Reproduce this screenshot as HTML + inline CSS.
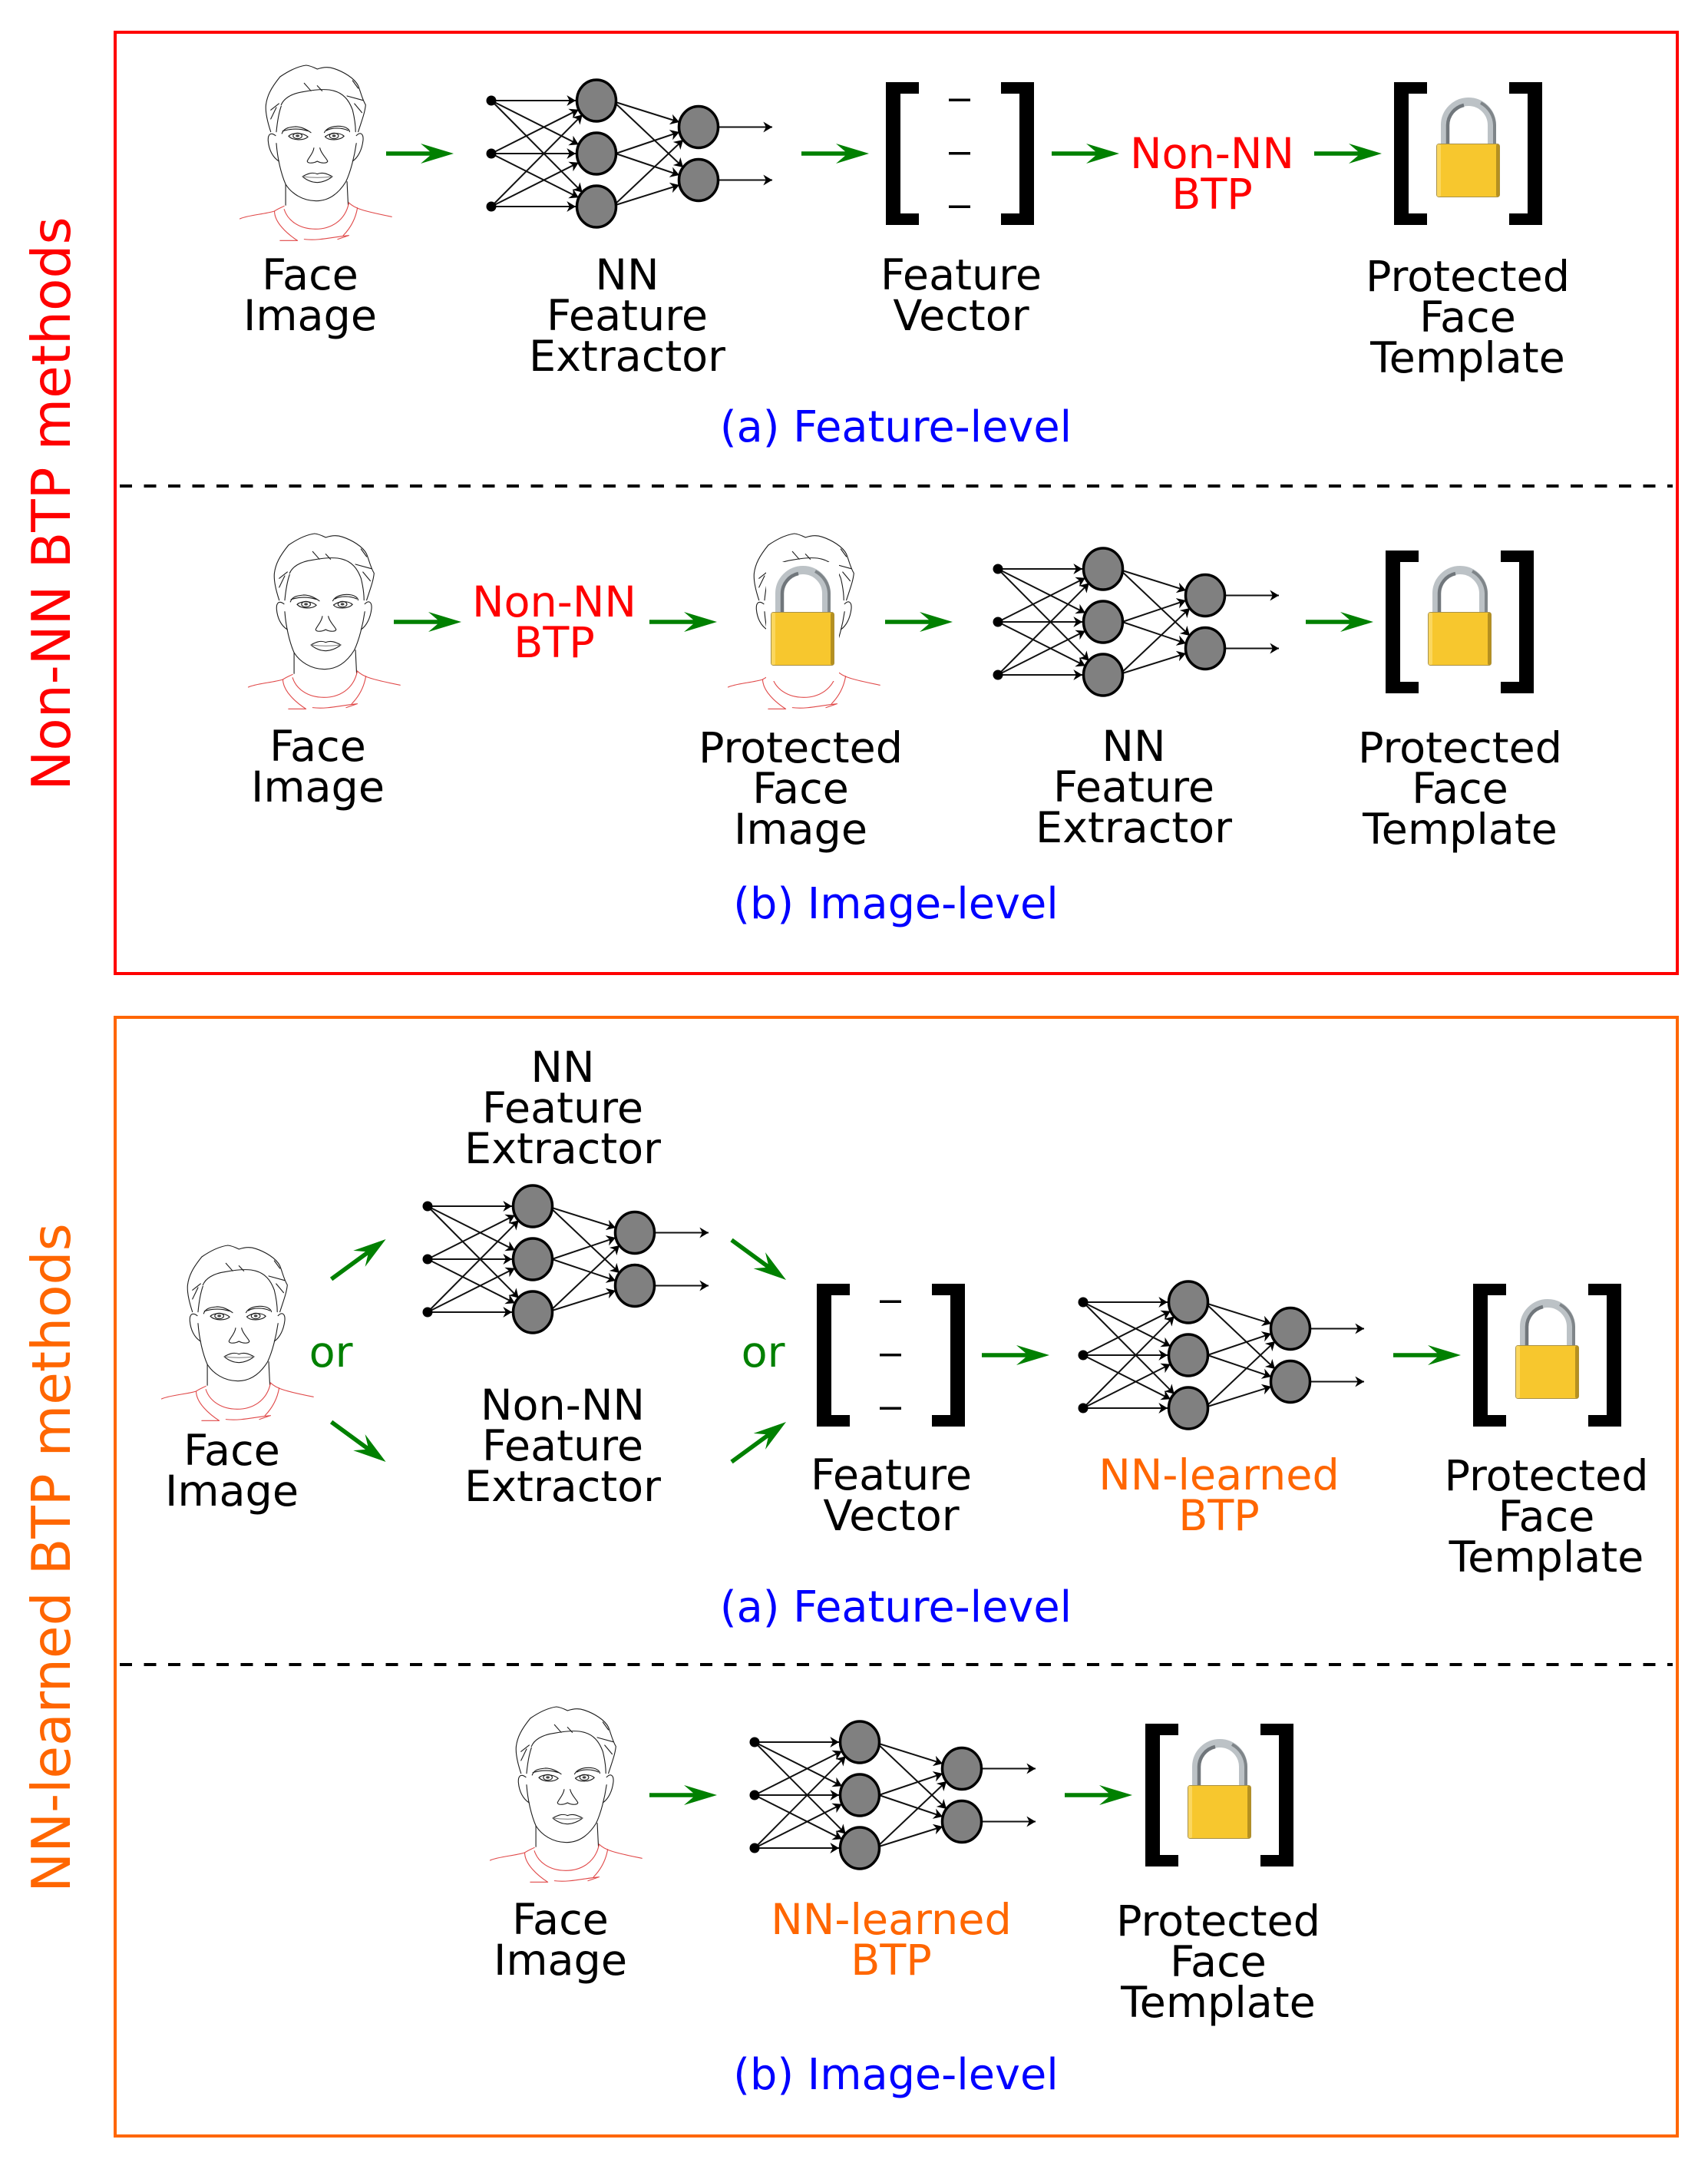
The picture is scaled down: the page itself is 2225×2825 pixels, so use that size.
<!DOCTYPE html>
<html>
<head>
<meta charset="utf-8">
<style>
html,body{margin:0;padding:0;background:#fff;}
svg{display:block;}
text{font-family:"DejaVu Sans",sans-serif;font-size:55.6px;text-anchor:middle;fill:#000;}
.r{fill:#ff0000;}
.o{fill:#ff6600;}
.b{fill:#0000ff;font-size:55.7px;}
.g{fill:#008000;}
.s{font-size:69.4px;}
</style>
</head>
<body>
<svg xmlns="http://www.w3.org/2000/svg" width="2225" height="2825" viewBox="0 0 2225 2825">
<defs>
<marker id="m" markerUnits="userSpaceOnUse" markerWidth="14" markerHeight="14" refX="10" refY="6" orient="auto" viewBox="0 0 12 12">
<path d="M0,0 L10,6 L0,12 L3,6 Z" fill="#000"/>
</marker>
<g id="face" transform="scale(.4847,.3333)" fill="none" stroke="#1c1c1c" stroke-width="1.1" stroke-linecap="round" stroke-linejoin="round">
<path vector-effect="non-scaling-stroke" d="M150,395 C142,360 135,320 137,290 C140,255 150,225 175,180 C195,160 220,140 245,135 C258,137 268,145 275,150 C290,142 305,140 320,148 C345,160 375,185 385,215 C392,240 395,265 405,290 C403,320 395,350 385,395"/>
<path vector-effect="non-scaling-stroke" d="M165,395 C168,350 172,320 178,295 M178,290 C185,265 205,245 240,238 C270,230 300,226 320,235 C345,245 360,270 370,310 C375,340 378,365 378,395"/>
<path vector-effect="non-scaling-stroke" d="M240,205 L258,235 M275,215 L288,235 M355,255 L398,272 M150,310 L172,285 M375,285 L395,320 M150,345 L165,300 M385,225 L370,195"/>
<path vector-effect="non-scaling-stroke" d="M165,440 C168,500 178,560 190,600 C205,635 235,665 272,665 C310,665 335,630 352,590 C365,550 375,490 380,440"/>
<path vector-effect="non-scaling-stroke" d="M190,600 L190,682 M355,590 L358,680"/>
<path vector-effect="non-scaling-stroke" d="M163,410 C150,395 142,405 143,430 C145,465 155,495 172,510 M380,410 C392,392 400,405 398,430 C395,465 385,495 370,510"/>
<path vector-effect="non-scaling-stroke" d="M180,402 C185,382 195,378 215,375 C232,375 245,385 258,398 M182,392 C200,384 225,380 250,392 M294,398 C300,380 320,368 345,375 C355,378 362,388 362,395 M300,390 C315,378 340,378 358,390"/>
<path vector-effect="non-scaling-stroke" d="M198,412 C208,398 235,396 250,415 C238,430 210,430 198,412 Z M296,414 C310,398 335,396 347,412 C335,430 305,430 296,414 Z"/>
<ellipse vector-effect="non-scaling-stroke" cx="222" cy="411" rx="12" ry="11"/>
<ellipse vector-effect="non-scaling-stroke" cx="320" cy="411" rx="12" ry="11"/>
<ellipse cx="222" cy="411" rx="5" ry="5" fill="#444" stroke="none"/>
<ellipse cx="320" cy="411" rx="5" ry="5" fill="#444" stroke="none"/>
<path vector-effect="non-scaling-stroke" d="M266,458 C264,480 252,495 248,510 C250,520 265,518 275,510 C285,518 300,520 303,510 C298,495 285,480 282,458"/>
<path vector-effect="non-scaling-stroke" d="M235,570 C245,562 260,550 275,560 C290,550 305,562 316,570 C305,582 290,593 275,593 C258,593 245,582 235,570 Z"/>
<path vector-effect="non-scaling-stroke" stroke="#888" d="M235,570 C260,575 290,575 316,570"/>
<g stroke="#e04848">
<path vector-effect="non-scaling-stroke" d="M67,735 C90,720 130,718 160,705 C170,695 180,690 186,685"/>
<path vector-effect="non-scaling-stroke" d="M186,698 C195,740 225,775 270,775 C310,775 350,745 360,672"/>
<path vector-effect="non-scaling-stroke" d="M360,672 C375,695 400,705 475,727"/>
<path vector-effect="non-scaling-stroke" d="M160,705 C160,750 195,795 222,820 M175,820 L222,820"/>
<path vector-effect="non-scaling-stroke" d="M383,692 C378,735 365,770 345,800"/>
<path vector-effect="non-scaling-stroke" d="M240,815 C280,822 320,805 360,800 M330,815 L360,800"/>
</g>
</g>
<g id="lock">
<path d="M11.5,2 V-24 A30.5,30.5 0 0 1 72.5,-24 V2" fill="none" stroke="#bcc2c6" stroke-width="11"/>
<path d="M15,2 V-24 A27,27 0 0 1 36,-50" fill="none" stroke="#70767b" stroke-width="4.5"/>
<path d="M76,2 V-24 A34,34 0 0 0 58,-53" fill="none" stroke="#7f8589" stroke-width="4"/>
<rect x="0.5" y="0.5" width="82" height="69" rx="3" fill="#f7c72e" stroke="#a8914a" stroke-width="1"/>
<rect x="1" y="1" width="5" height="68" rx="2" fill="#fbd75e"/>
<rect x="78" y="1" width="4.5" height="68" rx="2" fill="#b59020"/>
</g>
<path id="arrow" d="M0,-2.8 H57 L45,-13 L88,0 L45,13 L57,2.8 H0 Z" fill="#008000"/>
<g id="bracket" fill="#000">
<path d="M0,0 H43 V15 H19 V171 H43 V186 H0 Z"/>
<path d="M193,0 H150 V15 H174 V171 H150 V186 H193 Z"/>
</g>
<g id="dashes" fill="#000">
<rect x="82" y="21.5" width="28" height="3.5"/>
<rect x="82" y="91" width="28" height="3.5"/>
<rect x="82" y="160.5" width="28" height="3.5"/>
</g>
<g id="nn">
<g fill="none" stroke="#111" stroke-width="2">
<path marker-end="url(#m)" d="M0,-69 L110,-69"/>
<path marker-end="url(#m)" d="M0,-69 L113.8,-11.7"/>
<path marker-end="url(#m)" d="M0,-69 L118.7,50.6"/>
<path marker-end="url(#m)" d="M0,0 L113.8,-57.3"/>
<path marker-end="url(#m)" d="M0,0 L110,0"/>
<path marker-end="url(#m)" d="M0,0 L113.8,57.3"/>
<path marker-end="url(#m)" d="M0,69 L118.7,-50.6"/>
<path marker-end="url(#m)" d="M0,69 L113.8,11.7"/>
<path marker-end="url(#m)" d="M0,69 L110,69"/>
<path marker-end="url(#m)" d="M162,-67 L245,-41"/>
<path marker-end="url(#m)" d="M158,-69 L250,18"/>
<path marker-end="url(#m)" d="M162,0 L245,-28"/>
<path marker-end="url(#m)" d="M162,0 L245,28"/>
<path marker-end="url(#m)" d="M158,69 L250,-18"/>
<path marker-end="url(#m)" d="M162,67 L245,41"/>
<path marker-end="url(#m)" d="M295,-34.5 L366,-34.5"/>
<path marker-end="url(#m)" d="M295,34.5 L366,34.5"/>
</g>
<g fill="#000">
<circle cx="0" cy="-69" r="6.5"/>
<circle cx="0" cy="0" r="6.5"/>
<circle cx="0" cy="69" r="6.5"/>
</g>
<g fill="#808080" stroke="#000" stroke-width="3.5">
<ellipse cx="137" cy="-69" rx="25.5" ry="27"/>
<ellipse cx="137" cy="0" rx="25.5" ry="27"/>
<ellipse cx="137" cy="69" rx="25.5" ry="27"/>
<ellipse cx="270" cy="-34.5" rx="25.5" ry="27"/>
<ellipse cx="270" cy="34.5" rx="25.5" ry="27"/>
</g>
</g>
</defs>

<rect width="2225" height="2825" fill="#fff"/>

<!-- frames -->
<rect x="150" y="42" width="2035" height="1226" fill="none" stroke="#ff0000" stroke-width="4"/>
<rect x="150" y="1325" width="2035" height="1457" fill="none" stroke="#ff6600" stroke-width="4"/>
<path d="M156,633 H2179" stroke="#000" stroke-width="4" stroke-dasharray="16 15.5"/>
<path d="M156,2168 H2179" stroke="#000" stroke-width="4" stroke-dasharray="16 15.5"/>

<!-- side labels -->
<text class="s r" transform="translate(91,656) rotate(-90)">Non-NN BTP methods</text>
<text class="s o" transform="translate(91,2029) rotate(-90)">NN-learned BTP methods</text>

<!-- Row A -->
<use href="#face" x="280" y="40"/>
<use href="#arrow" x="503" y="200"/>
<use href="#nn" x="640" y="200"/>
<use href="#arrow" x="1044" y="200"/>
<use href="#bracket" x="1154" y="107"/>
<use href="#dashes" x="1154" y="107"/>
<use href="#arrow" x="1370" y="200"/>
<use href="#arrow" x="1712" y="200"/>
<use href="#bracket" x="1816" y="107"/>
<use href="#lock" x="1871" y="187"/>
<text x="404" y="377">Face</text><text x="404" y="430">Image</text>
<text x="817" y="377">NN</text><text x="817" y="430">Feature</text><text x="817" y="483">Extractor</text>
<text x="1252" y="377">Feature</text><text x="1252" y="430">Vector</text>
<text class="r" x="1579" y="219">Non-NN</text><text class="r" x="1579" y="272">BTP</text>
<text x="1912" y="379">Protected</text><text x="1912" y="432">Face</text><text x="1912" y="485">Template</text>
<text class="b" x="1167" y="575">(a) Feature-level</text>

<!-- Row B -->
<use href="#face" x="291" y="650"/>
<use href="#arrow" x="513" y="810"/>
<use href="#arrow" x="846" y="810"/>
<use href="#face" x="916" y="650"/>
<rect x="998" y="732" width="95" height="155" fill="#fff"/>
<use href="#lock" x="1004" y="797"/>
<use href="#arrow" x="1153" y="810"/>
<use href="#nn" x="1300" y="810"/>
<use href="#arrow" x="1701" y="810"/>
<use href="#bracket" x="1805" y="717"/>
<use href="#lock" x="1860" y="797"/>
<text x="414" y="991">Face</text><text x="414" y="1044">Image</text>
<text class="r" x="722" y="803">Non-NN</text><text class="r" x="722" y="856">BTP</text>
<text x="1043" y="993">Protected</text><text x="1043" y="1046">Face</text><text x="1043" y="1099">Image</text>
<text x="1477" y="991">NN</text><text x="1477" y="1044">Feature</text><text x="1477" y="1097">Extractor</text>
<text x="1902" y="993">Protected</text><text x="1902" y="1046">Face</text><text x="1902" y="1099">Template</text>
<text class="b" x="1167" y="1196">(b) Image-level</text>

<!-- Row C -->
<use href="#face" x="178" y="1577"/>
<use href="#arrow" transform="translate(431.6,1666) rotate(-36.2)"/>
<use href="#arrow" transform="translate(431.6,1852) rotate(36.2)"/>
<use href="#nn" x="557" y="1640"/>
<use href="#arrow" transform="translate(953,1615) rotate(36.2)"/>
<use href="#arrow" transform="translate(953,1904) rotate(-36.2)"/>
<use href="#bracket" x="1064" y="1672"/>
<use href="#dashes" x="1064" y="1672"/>
<use href="#arrow" x="1279" y="1765"/>
<use href="#nn" x="1411" y="1765"/>
<use href="#arrow" x="1815" y="1765"/>
<use href="#bracket" x="1919" y="1672"/>
<use href="#lock" x="1974" y="1752"/>
<text x="733" y="1409">NN</text><text x="733" y="1462">Feature</text><text x="733" y="1515">Extractor</text>
<text x="733" y="1849">Non-NN</text><text x="733" y="1902">Feature</text><text x="733" y="1955">Extractor</text>
<text x="302" y="1908">Face</text><text x="302" y="1961">Image</text>
<text class="g" x="431" y="1780">or</text>
<text class="g" x="994" y="1780">or</text>
<text x="1161" y="1940">Feature</text><text x="1161" y="1993">Vector</text>
<text class="o" x="1588" y="1940">NN-learned</text><text class="o" x="1588" y="1993">BTP</text>
<text x="2014.5" y="1941">Protected</text><text x="2014.5" y="1994">Face</text><text x="2014.5" y="2047">Template</text>
<text class="b" x="1167" y="2112">(a) Feature-level</text>

<!-- Row D -->
<use href="#face" x="606" y="2178"/>
<use href="#arrow" x="846" y="2338"/>
<use href="#nn" x="983" y="2338"/>
<use href="#arrow" x="1387" y="2338"/>
<use href="#bracket" x="1492" y="2245"/>
<use href="#lock" x="1547" y="2325"/>
<text x="730" y="2519">Face</text><text x="730" y="2572">Image</text>
<text class="o" x="1161" y="2519">NN-learned</text><text class="o" x="1161" y="2572">BTP</text>
<text x="1587" y="2521">Protected</text><text x="1587" y="2574">Face</text><text x="1587" y="2627">Template</text>
<text class="b" x="1167" y="2721">(b) Image-level</text>
</svg>
</body>
</html>
